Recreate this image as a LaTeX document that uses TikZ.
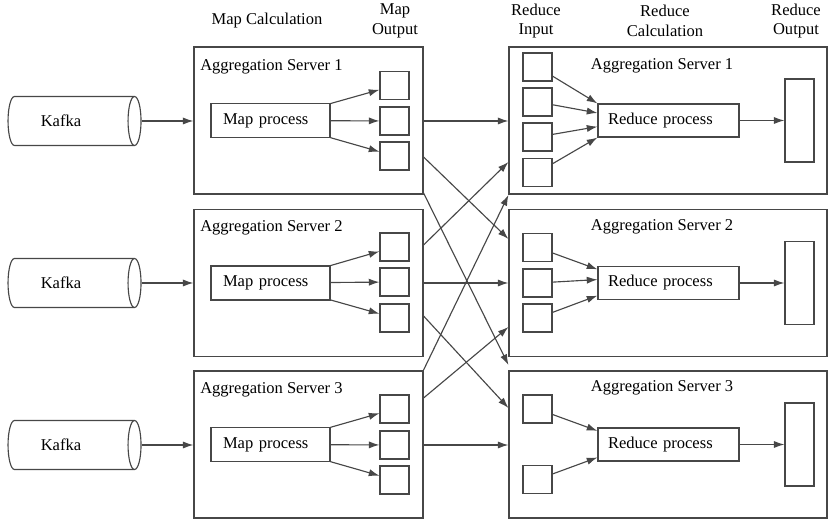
\documentclass[tikz,border=0pt]{standalone}
\usepackage{fontspec}
\setmainfont{Liberation Serif}
\usetikzlibrary{shapes.geometric,arrows.meta,calc}
\begin{document}
\begin{tikzpicture}[x=0.75pt,y=-0.75pt,
  every node/.style={font=\fontsize{12.4}{14.5}\selectfont, text=black},
  ln/.style={draw=black!72, line width=0.85pt},
  server/.style={ln, rectangle, minimum width=171.75pt, minimum height=110.25pt, inner sep=0pt},
  rserver/.style={server, minimum width=238.5pt},
  smallbox/.style={ln, rectangle, minimum width=21.75pt, minimum height=21pt, inner sep=0pt},
  outbox/.style={ln, rectangle, minimum width=21.75pt, minimum height=62.25pt, inner sep=0pt},
  mapproc/.style={ln, rectangle, minimum height=25.5pt, inner ysep=0pt, inner xsep=9pt, text width=71.25pt, align=left},
  redproc/.style={ln, rectangle, minimum height=24.75pt, inner ysep=0pt, inner xsep=7.5pt, text width=90.75pt, align=left},
  kafka/.style={ln, cylinder, shape border rotate=0, aspect=1.1, minimum height=99.75pt, minimum width=36.75pt, inner sep=0pt},
  hdr/.style={align=center, inner sep=0pt},
  ltitle/.style={anchor=west, inner sep=0pt},
  rtitle/.style={inner sep=0pt},
  arr/.style={ln, -{Latex[length=8pt,width=5.4pt]}},
]
\useasboundingbox (0,0) rectangle (831,523);

% headers
\node[hdr] (hMC) at (267,21) {Map Calculation};
\node[hdr] (hMO) at (395,21) {Map\\Output};
\node[hdr] (hRI) at (536,21) {Reduce\\Input};
\node[hdr] (hRC) at (665,21) {Reduce\\Calculation};
\node[hdr] (hRO) at (796,21) {Reduce\\Output};

% kafka
\node[kafka] (K1) at (71,121) {Kafka\hspace*{15pt}};
\node[kafka] (K2) at (71,283) {Kafka\hspace*{15pt}};
\node[kafka] (K3) at (71,445) {Kafka\hspace*{15pt}};

% left servers
\node[server] (L1) at (308.5,120.5) {};
\node[server] (L2) at (308.5,283) {};
\node[server] (L3) at (308.5,444.5) {};
\node[ltitle] (LT1) at (200,67) {Aggregation Server 1};
\node[ltitle] (LT2) at (200,228) {Aggregation Server 2};
\node[ltitle] (LT3) at (200,390) {Aggregation Server 3};
\node[mapproc] (M1) at (270.5,120.5) {Map process};
\node[mapproc] (M2) at (270.5,283) {Map process};
\node[mapproc] (M3) at (270.5,444.5) {Map process};
\node[smallbox] (O11) at (394.5,85.5) {};
\node[smallbox] (O12) at (394.5,121) {};
\node[smallbox] (O13) at (394.5,156) {};
\node[smallbox] (O21) at (394.5,247) {};
\node[smallbox] (O22) at (394.5,282) {};
\node[smallbox] (O23) at (394.5,318) {};
\node[smallbox] (O31) at (394.5,409) {};
\node[smallbox] (O32) at (394.5,445) {};
\node[smallbox] (O33) at (394.5,480) {};

% right servers
\node[rserver] (R1) at (668,120.5) {};
\node[rserver] (R2) at (668,283) {};
\node[rserver] (R3) at (668,444.5) {};
\node[rtitle] (RT1) at (662,66) {Aggregation Server 1};
\node[rtitle] (RT2) at (662,227) {Aggregation Server 2};
\node[rtitle] (RT3) at (662,388) {Aggregation Server 3};
\node[smallbox] (I11) at (537.5,67) {};
\node[smallbox] (I12) at (537.5,102) {};
\node[smallbox] (I13) at (537.5,137) {};
\node[smallbox] (I14) at (537.5,172.5) {};
\node[smallbox] (I21) at (537.5,247.5) {};
\node[smallbox] (I22) at (537.5,283) {};
\node[smallbox] (I23) at (537.5,318) {};
\node[smallbox] (I31) at (537.5,409) {};
\node[smallbox] (I32) at (537.5,479.5) {};
\node[redproc] (RP1) at (668.5,120.5) {Reduce process};
\node[redproc] (RP2) at (668.5,283) {Reduce process};
\node[redproc] (RP3) at (668.5,444.5) {Reduce process};
\node[outbox] (RO1) at (799.5,120.5) {};
\node[outbox] (RO2) at (799.5,283) {};
\node[outbox] (RO3) at (799.5,444.5) {};

% kafka -> servers
\draw[arr] (K1.east) -- (K1.east -| L1.west);
\draw[arr] (K2.east) -- (K2.east -| L2.west);
\draw[arr] (K3.east) -- (K3.east -| L3.west);

% map process -> outputs
\foreach \s in {1,2,3}{
  \foreach \b in {1,2,3}{
    \draw[arr] (M\s) -- (O\s\b);
  }
}

% shuffle
\draw[arr] (L1.east |- 0,121) -- (R1.west |- 0,121);
\draw[arr] (L1.east |- 0,157) -- (R2.west |- 0,239);
\draw[arr] (L1.east |- 0,193) -- (R3.west |- 0,365);
\draw[arr] (L2.east |- 0,245) -- (R1.west |- 0,162);
\draw[arr] (L2.east |- 0,283) -- (R2.west |- 0,283);
\draw[arr] (L2.east |- 0,316) -- (R3.west |- 0,408);
\draw[arr] (L3.east |- 0,370) -- (R1.west |- 0,195);
\draw[arr] (L3.east |- 0,398) -- (R2.west |- 0,327);
\draw[arr] (L3.east |- 0,445) -- (R3.west |- 0,445);

% reduce inputs -> reduce process
\draw[arr] (I11) -- ($(RP1.north west)!0.0!(RP1.south west)$);
\draw[arr] (I12) -- ($(RP1.north west)!0.28!(RP1.south west)$);
\draw[arr] (I13) -- ($(RP1.north west)!0.68!(RP1.south west)$);
\draw[arr] (I14) -- ($(RP1.north west)!1.0!(RP1.south west)$);
\draw[arr] (I21) -- ($(RP2.north west)!0.1!(RP2.south west)$);
\draw[arr] (I22) -- ($(RP2.north west)!0.4!(RP2.south west)$);
\draw[arr] (I23) -- ($(RP2.north west)!0.87!(RP2.south west)$);
\draw[arr] (I31) -- ($(RP3.north west)!0.1!(RP3.south west)$);
\draw[arr] (I32) -- ($(RP3.north west)!0.88!(RP3.south west)$);

% reduce process -> outputs
\draw[arr] (RP1) -- (RO1);
\draw[arr] (RP2) -- (RO2);
\draw[arr] (RP3) -- (RO3);
\end{tikzpicture}
\end{document}
